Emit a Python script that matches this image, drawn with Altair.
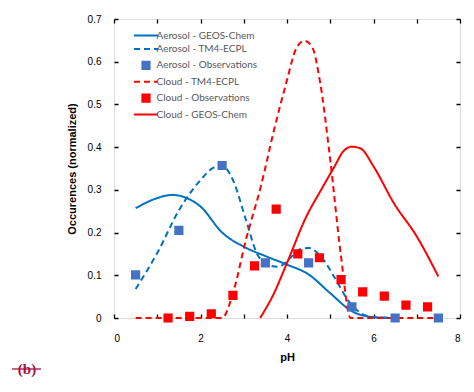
import altair as alt
import pandas as pd

# ---- data ----
series_names = ["Aerosol - GEOS-Chem", "Aerosol - TM4-ECPL", "Aerosol - Observations",
                "Cloud - TM4-ECPL", "Cloud - Observations", "Cloud - GEOS-Chem"]
series_colors = ["#0070C0", "#0070C0", "#4472C4", "#FF0000", "#FF0000", "#FF0000"]
series_dash = [[1, 0], [6, 4], [1, 0], [6, 4], [1, 0], [1, 0]]
LINE_SYM = "M-2.67,0H2.67"
SQ_SYM = "M-0.8,-0.8H0.8V0.8H-0.8Z"
series_shape = [LINE_SYM, LINE_SYM, SQ_SYM, LINE_SYM, SQ_SYM, LINE_SYM]

aer_gc_x = [0.5, 0.9, 1.35, 1.7, 2.0, 2.5, 3.0, 3.5, 4.0, 4.5, 5.0, 5.5, 6.0, 6.5]
aer_gc_y = [0.257, 0.277, 0.288, 0.280, 0.261, 0.200, 0.167, 0.145, 0.125, 0.102, 0.058, 0.016, 0.002, 0.0]

aer_tm_x = [0.5, 1.0, 1.5, 2.0, 2.3, 2.5, 2.75, 3.05, 3.3, 3.55, 3.8, 4.05, 4.3, 4.5, 4.8, 5.1, 5.4, 5.7, 6.0, 6.5]
aer_tm_y = [0.068, 0.152, 0.252, 0.323, 0.352, 0.357, 0.323, 0.230, 0.152, 0.125, 0.120, 0.138, 0.161, 0.164,
            0.142, 0.095, 0.043, 0.012, 0.002, 0.0]

cld_tm_x = [0.5, 1.5, 2.5, 2.75, 3.05, 3.4, 3.7, 4.0, 4.2, 4.4, 4.58, 4.77, 5.0, 5.24, 5.47, 6.0, 7.0, 7.5]
cld_tm_y = [0.0, 0.0, 0.0, 0.058, 0.183, 0.310, 0.440, 0.557, 0.628, 0.649, 0.635, 0.549, 0.370, 0.152,
            0.0, 0.0, 0.0, 0.0]

cld_gc_x = [3.38, 3.7, 4.0, 4.45, 4.8, 5.1, 5.3, 5.5, 5.7, 6.0, 6.47, 7.0, 7.5]
cld_gc_y = [0.0, 0.058, 0.129, 0.238, 0.302, 0.355, 0.390, 0.401, 0.397, 0.355, 0.269, 0.191, 0.097]

aer_obs_x = [0.5, 1.5, 2.5, 3.5, 4.5, 5.5, 6.5, 7.5]
aer_obs_y = [0.101, 0.205, 0.357, 0.129, 0.129, 0.026, 0.0, 0.0]

cld_obs_x = [1.25, 1.75, 2.25, 2.75, 3.25, 3.75, 4.25, 4.75, 5.25, 5.75, 6.25, 6.75, 7.25]
cld_obs_y = [0.0, 0.004, 0.010, 0.053, 0.122, 0.255, 0.150, 0.141, 0.090, 0.061, 0.051, 0.030, 0.026]

x_ticks = [0, 1, 2, 3, 4, 5, 6, 7, 8]
y_ticks = [0, 0.1, 0.2, 0.3, 0.4, 0.5, 0.6, 0.7]

# ---- tables ----
def frame(name, xs, ys):
    return pd.DataFrame({"series": name, "pH": xs, "occ": ys, "order": range(len(xs))})

lines_df = pd.concat([
    frame("Aerosol - GEOS-Chem", aer_gc_x, aer_gc_y),
    frame("Aerosol - TM4-ECPL", aer_tm_x, aer_tm_y),
    frame("Cloud - TM4-ECPL", cld_tm_x, cld_tm_y),
    frame("Cloud - GEOS-Chem", cld_gc_x, cld_gc_y),
])
points_df = pd.concat([
    frame("Aerosol - Observations", aer_obs_x, aer_obs_y),
    frame("Cloud - Observations", cld_obs_x, cld_obs_y),
])

W, H = 346, 299
grey = "#595959"
FONT = "Lato"
SQ = 81

xscale = alt.Scale(domain=[0, 8], nice=False, zero=False)
yscale = alt.Scale(domain=[0, 0.7], nice=False)

legend = alt.Legend(
    title=None, orient="none", legendX=26.5, legendY=11, padding=0,
    labelOffset=5, rowPadding=2.4, symbolStrokeWidth=2, symbolSize=SQ,
    labelFont=FONT, labelFontSize=10, labelColor=grey, labelLimit=300,
)
color_scale = alt.Scale(domain=series_names, range=series_colors)
color = alt.Color("series:N", scale=color_scale, legend=legend)
stroke = alt.Stroke("series:N", scale=color_scale, legend=legend)
dash = alt.StrokeDash("series:N", scale=alt.Scale(domain=series_names, range=series_dash), legend=legend)
shape = alt.Shape("series:N", scale=alt.Scale(domain=series_names, range=series_shape), legend=legend)

x_enc = alt.X("pH:Q", scale=xscale, title="pH",
              axis=alt.Axis(values=x_ticks, labelExpr="datum.value % 2 == 0 ? datum.label : ''",
                            grid=True, gridColor="black", gridWidth=1.3, gridOpacity=1,
                            gridDash=[4, H - 8, 4, 200], ticks=False, domain=False,
                            labelPadding=15, titlePadding=8))
y_enc = alt.Y("occ:Q", scale=yscale, title="Occurences (normalized)",
              axis=alt.Axis(values=y_ticks,
                            labelExpr="datum.value == 0 ? '0' : format(datum.value, '.1f')",
                            grid=True, gridColor="black", gridWidth=1.3, gridOpacity=1,
                            gridDash=[4, W - 8, 4, 200], ticks=False, domain=False,
                            labelPadding=13, titlePadding=10))

lines = alt.Chart(lines_df).mark_line(strokeWidth=2, interpolate="monotone").encode(
    x=x_enc, y=y_enc, color=color, strokeDash=dash, order="order:Q",
)

points = alt.Chart(points_df).mark_point(filled=True, opacity=1, strokeWidth=2, size=SQ).encode(
    x="pH:Q", y="occ:Q", color=color, stroke=stroke, shape=shape,
)

label_df = pd.DataFrame({"t": ["(b)"]})
blabel = alt.Chart(label_df).mark_text(
    font="Liberation Serif", fontSize=15, fontWeight="bold", color="#A8123E", align="center"
).encode(x=alt.value(-87), y=alt.value(350), text="t:N")
bstrike = alt.Chart(label_df).mark_rule(color="#A8123E", strokeWidth=1.3).encode(
    x=alt.value(-102), x2=alt.value(-73), y=alt.value(350))

chart = alt.layer(lines, points, blabel, bstrike).properties(
    width=W, height=H,
    autosize=alt.AutoSizeParams(type="none"),
    padding={"left": 114, "top": 19, "right": 14, "bottom": 74},
).configure_view(stroke="black", strokeWidth=2).configure_axis(
    labelFont=FONT, labelFontSize=13, labelColor=grey,
    titleFont=FONT, titleFontSize=13, titleColor=grey, titleFontWeight="bold",
).configure(background="white")

chart.save("out.html", embed_options={"renderer": "svg", "actions": False})
